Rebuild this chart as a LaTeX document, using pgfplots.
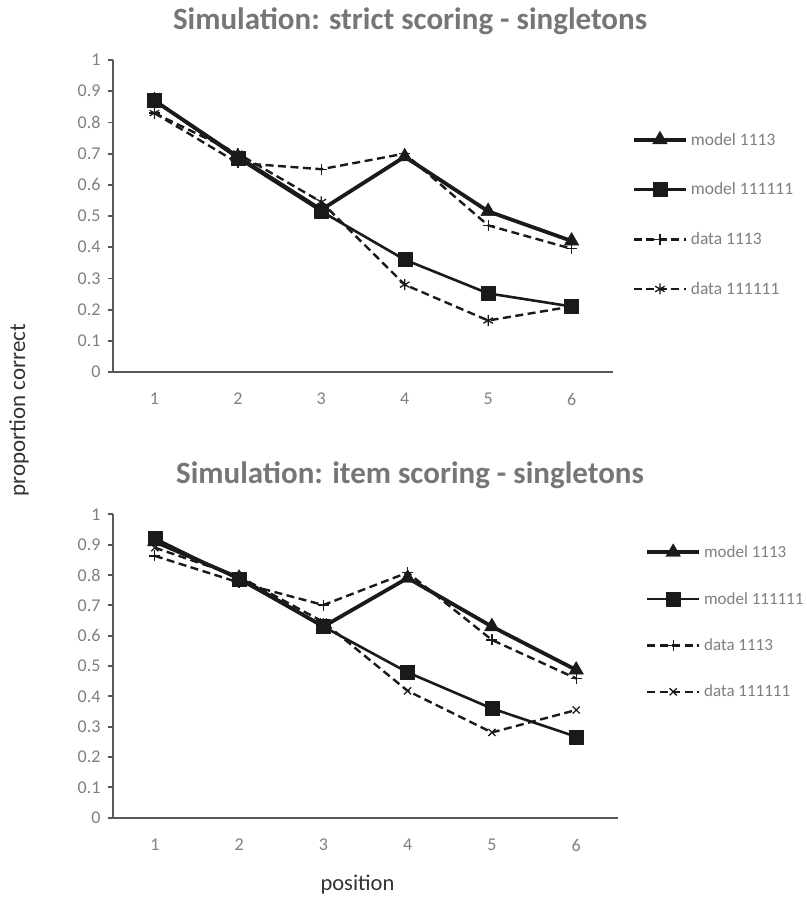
\documentclass[border=0pt]{standalone}
\usepackage{pgfplots}
\pgfplotsset{compat=1.18}
\usepackage{fontspec}
\setmainfont{Carlito}
\definecolor{axgray}{HTML}{595959}
\definecolor{txtgray}{HTML}{7F7F7F}
\definecolor{ttlgray}{HTML}{767676}
\definecolor{ln}{HTML}{1A1A1A}
\definecolor{lblc}{HTML}{333333}

\pgfplotsset{
  myaxis/.style={
    scale only axis,
    xmin=0.5, xmax=6.5, ymin=0, ymax=1,
    xtick={1,2,3,4,5,6},
    ytick={0,0.1,0.2,0.3,0.4,0.5,0.6,0.7,0.8,0.9,1},
    axis lines=left,
    axis line style={-, axgray, line width=1.8pt},
    tick align=outside,
    major tick length=5pt,
    ytick style={axgray, line width=1.8pt},
    xtick style={draw=none},
    /pgf/number format/assume math mode=true,
    tick label style={font=\fontsize{18}{18}\selectfont, text=txtgray, inner sep=0pt},
    yticklabel style={anchor=east, xshift=-7pt},
    xticklabel style={anchor=north, yshift=-16pt},
    clip=false,
    legend cell align=left,
    legend image code/.code={\draw[mark repeat=2,mark phase=2] plot coordinates {(0pt,0pt)(26pt,0pt)(52pt,0pt)};},
    title style={font=\bfseries\fontsize{31}{31}\selectfont, text=ttlgray, anchor=base, inner sep=0pt},
  },
  m1113/.style={ln, line width=3.8pt, line join=round, mark=triangle*, mark size=8.5pt, mark options={solid, fill=ln, line width=0.4pt}},
  m111111/.style={ln, line width=2.6pt, line join=round, mark=square*, mark size=7pt, mark options={solid, fill=ln, line width=0.4pt, rounded corners=1.5pt}},
  d1113/.style={ln, line width=2.4pt, dash pattern=on 8pt off 4.5pt, mark=+, mark size=5.5pt, mark options={solid, line width=1.3pt}},
  d111111a/.style={ln, line width=2.4pt, dash pattern=on 8pt off 4.5pt, mark=asterisk, mark size=5.5pt, mark options={solid, line width=1.3pt}},
  d111111b/.style={ln, line width=2.4pt, dash pattern=on 8pt off 4.5pt, mark=x, mark size=5pt, mark options={solid, line width=1.3pt}},
}

\begin{document}
\begin{tikzpicture}
\useasboundingbox (0pt,0pt) rectangle (806pt,-899pt);

\begin{axis}[myaxis,
  at={(112.7pt,-372pt)}, anchor=south west,
  width=500.6pt, height=312pt,
  title={Simulation: strict scoring - singletons},
  title style={at={(0.594,1.08)}},
  legend style={draw=none, fill=none, at={(1.037,0.508)}, anchor=west,
    font=\fontsize{17.5}{17.5}\selectfont, text=txtgray, row sep=36pt, column sep=3pt,
    inner sep=0pt, nodes={inner sep=0pt}},
]
\addplot[m1113] coordinates {(1,0.87) (2,0.69) (3,0.52) (4,0.69) (5,0.515) (6,0.42)};
\addlegendentry{model 1113}
\addplot[m111111] coordinates {(1,0.87) (2,0.685) (3,0.515) (4,0.36) (5,0.252) (6,0.21)};
\addlegendentry{model 111111}
\addplot[d1113] coordinates {(1,0.83) (2,0.67) (3,0.65) (4,0.70) (5,0.47) (6,0.395)};
\addlegendentry{data 1113}
\addplot[d111111a] coordinates {(1,0.83) (2,0.70) (3,0.545) (4,0.28) (5,0.165) (6,0.21)};
\addlegendentry{data 111111}
\end{axis}

\begin{axis}[myaxis,
  at={(112.7pt,-817.7pt)}, anchor=south west,
  width=505.6pt, height=303.4pt,
  title={Simulation: item scoring - singletons},
  title style={at={(0.588,1.081)}},
  legend style={draw=none, fill=none, at={(1.053,0.648)}, anchor=west,
    font=\fontsize{17}{17}\selectfont, text=txtgray, row sep=33pt, column sep=3pt,
    inner sep=0pt, nodes={inner sep=0pt}},
]
\addplot[m1113] coordinates {(1,0.91) (2,0.79) (3,0.63) (4,0.79) (5,0.63) (6,0.487)};
\addlegendentry{model 1113}
\addplot[m111111] coordinates {(1,0.921) (2,0.785) (3,0.63) (4,0.479) (5,0.36) (6,0.267)};
\addlegendentry{model 111111}
\addplot[d1113] coordinates {(1,0.863) (2,0.775) (3,0.701) (4,0.808) (5,0.586) (6,0.459)};
\addlegendentry{data 1113}
\addplot[d111111b] coordinates {(1,0.89) (2,0.795) (3,0.645) (4,0.418) (5,0.281) (6,0.355)};
\addlegendentry{data 111111}
\end{axis}

\node[rotate=90, font=\fontsize{23}{23}\selectfont, text=lblc, inner sep=0pt] at (19pt,-410pt) {proportion correct};
\node[anchor=base, font=\fontsize{22.5}{22.5}\selectfont, text=lblc, inner sep=0pt] at (357.5pt,-890pt) {position};
\end{tikzpicture}
\end{document}
